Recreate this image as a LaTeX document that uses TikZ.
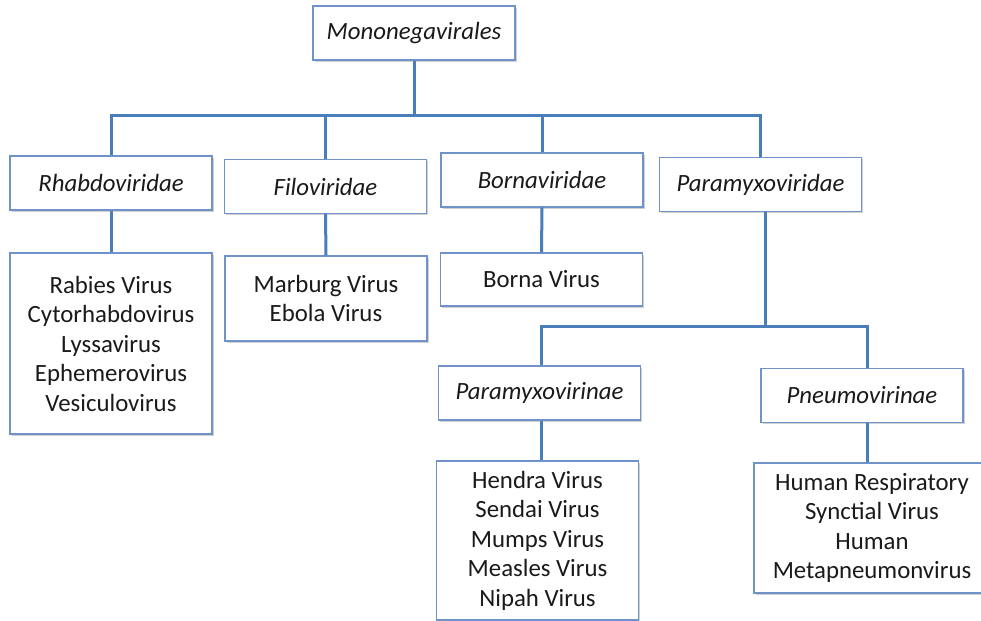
\documentclass[tikz,border=0pt]{standalone}
\usepackage{fontspec}
\setmainfont{Carlito}
\usetikzlibrary{shadows}
\definecolor{conn}{HTML}{4A7EBB}
\definecolor{boxline}{HTML}{6F93C8}
\definecolor{ink}{HTML}{1A1A1A}
\begin{document}
\begin{tikzpicture}[x=0.5pt,y=-0.5pt,
  box/.style={draw=boxline, line width=0.7pt, fill=white, inner sep=0pt,
    minimum width=101pt, align=center, text=ink,
    font=\fontsize{12.4}{14.75}\selectfont,
    drop shadow={shadow xshift=0.8pt, shadow yshift=-0.8pt, opacity=0.18, fill=black}},
  taxon/.style={box, minimum height=27pt, font=\fontsize{12.4}{14.75}\selectfont\itshape},
  link/.style={draw=conn, line width=1.5pt}]
\useasboundingbox (0,0) rectangle (981,621);
\clip (0,0) rectangle (981,621);

\node[taxon] (mono)  at (414,33)    {Mononegavirales};
\node[taxon] (rhab)  at (111,183)   {Rhabdoviridae};
\node[taxon] (filo)  at (325.5,186.5) {Filoviridae};
\node[taxon] (borna) at (542,180)   {Bornaviridae};
\node[taxon] (para)  at (760.5,184.5) {Paramyxoviridae};

\node[box, minimum height=90.5pt] (rhableaf) at (111,343.5)
  {Rabies Virus\\Cytorhabdovirus\\Lyssavirus\\Ephemerovirus\\Vesiculovirus};
\node[box, minimum height=42.5pt] (filoleaf) at (326,298.5)
  {Marburg Virus\\Ebola Virus};
\node[box, minimum height=26.5pt] (bornaleaf) at (541.5,279.5)
  {Borna Virus};

\node[taxon] (pvir)   at (539.5,393) {Paramyxovirinae};
\node[taxon] (pneumo) at (862,395.5) {Pneumovirinae};

\node[box, minimum height=79.5pt] (pvleaf) at (537.5,540.5)
  {Hendra Virus\\Sendai Virus\\Mumps Virus\\Measles Virus\\Nipah Virus};
\node[box, minimum width=118pt, minimum height=65pt] (pnleaf) at (872,528)
  {Human Respiratory\\Synctial Virus\\Human\\Metapneumonvirus};

\coordinate (j1) at (414,115);
\coordinate (j2) at (765,326);

\draw[link] (mono.south) -- (j1);
\draw[link] (j1) -| (rhab.north);
\draw[link] (j1) -| (filo.north);
\draw[link] (j1) -| (borna.north);
\draw[link] (j1) -| (para.north);

\draw[link] (rhab.south) -- (rhableaf.north);
\draw[link] (filo.south) -- (filoleaf.north);
\draw[link] (borna.south) -- (bornaleaf.north);

\draw[link] (para.south -| j2) -- (j2);
\draw[link] (j2) -| ([xshift=1pt]pvir.north);
\draw[link] (j2) -| ([xshift=2.5pt]pneumo.north);

\draw[link] ([xshift=1pt]pvir.south) -- ([xshift=1pt]pvir.south |- pvleaf.north);
\draw[link] ([xshift=2.5pt]pneumo.south) -- ([xshift=2.5pt]pneumo.south |- pnleaf.north);
\end{tikzpicture}
\end{document}
